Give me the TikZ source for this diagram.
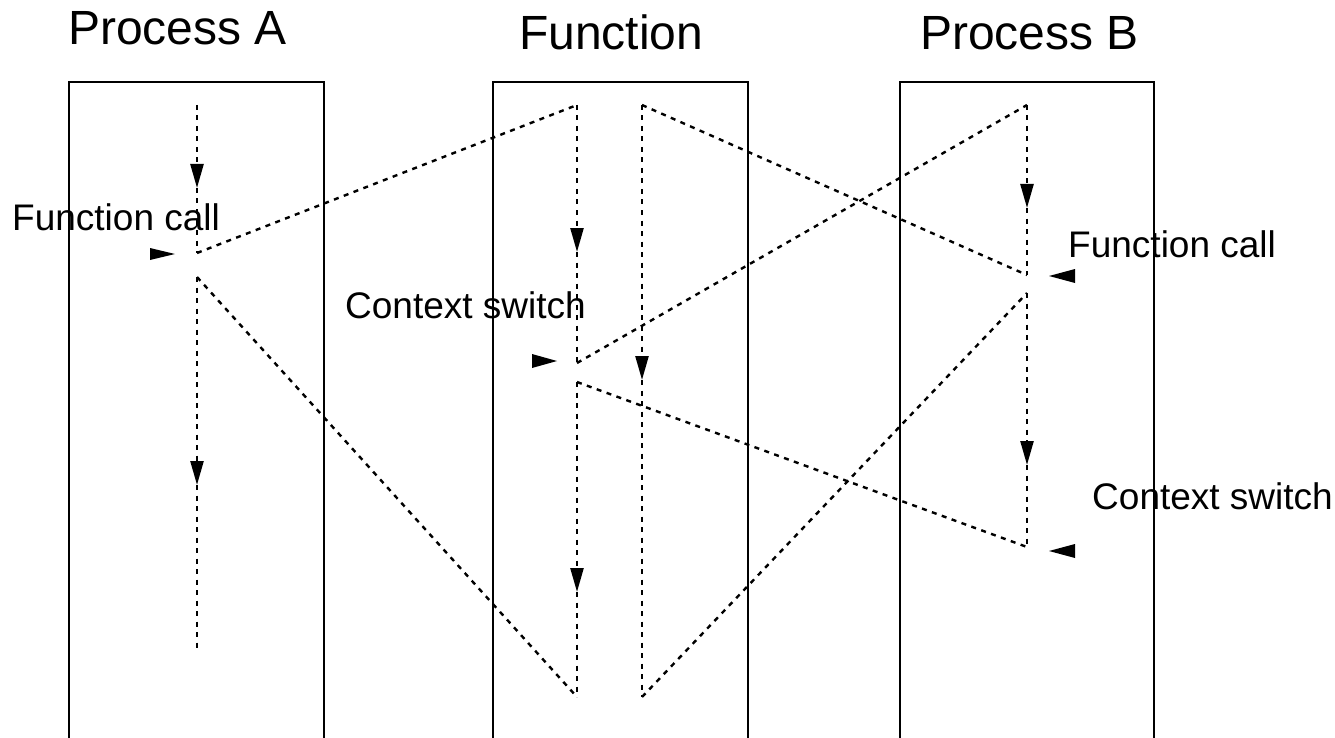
\documentclass[tikz,border=0pt]{standalone}
\usepackage{fontspec}
\setmainfont{Liberation Sans}
\usetikzlibrary{arrows.meta}
\tikzset{
  lane/.style={line width=2.8pt},
  flow/.style={line width=2.4pt, dash pattern=on 5pt off 5.5pt},
  flowarrow/.style={flow, -{Triangle[length=24pt,width=13pt]}},
  title/.style={font=\fontsize{48}{52}\selectfont, inner sep=0pt, anchor=base west},
  lbl/.style={font=\fontsize{37}{40}\selectfont, inner sep=0pt, anchor=base west},
  marker/.style={fill=black},
}
\begin{document}
\begin{tikzpicture}[x=1pt,y=-1pt]
\useasboundingbox (0,0) rectangle (1335,738);
\clip (0,0) rectangle (1335,738);
\fill[white] (0,0) rectangle (1335,738);

% titles
\node[title] (tA) at (68,45) {Process A};
\node[title] (tF) at (519,50) {Function};
\node[title] (tB) at (920,50) {Process B};

% lanes
\draw[lane] (69,760) -- (69,82) -- (324,82) -- (324,760);
\draw[lane] (493,760) -- (493,82) -- (748,82) -- (748,760);
\draw[lane] (900,760) -- (900,82) -- (1154,82) -- (1154,760);

% points
\coordinate (a1) at (197,105);
\coordinate (a2) at (197,253);
\coordinate (a3) at (197,277);
\coordinate (a4) at (197,652);
\coordinate (f1) at (577,105);
\coordinate (f2) at (577,363);
\coordinate (f3) at (577,382);
\coordinate (f4) at (577,697);
\coordinate (g1) at (642,105);
\coordinate (g2) at (642,697);
\coordinate (b1) at (1027,105);
\coordinate (b2) at (1027,275);
\coordinate (b3) at (1027,293);
\coordinate (b4) at (1027,547);
% arrow tips
\coordinate (ta1) at (197,188);
\coordinate (ta2) at (197,485);
\coordinate (tf1) at (577,252);
\coordinate (tf2) at (577,592);
\coordinate (tg)  at (642,380);
\coordinate (tb1) at (1027,208);
\coordinate (tb2) at (1027,465);

% vertical flows
\draw[flowarrow] (a1) -- (ta1); \draw[flow] (ta1) -- (a2);
\draw[flowarrow] (a3) -- (ta2); \draw[flow] (ta2) -- (a4);
\draw[flowarrow] (f1) -- (tf1); \draw[flow] (tf1) -- (f2);
\draw[flowarrow] (f3) -- (tf2); \draw[flow] (tf2) -- (f4);
\draw[flowarrow] (g1) -- (tg);  \draw[flow] (tg) -- (g2);
\draw[flowarrow] (b1) -- (tb1); \draw[flow] (tb1) -- (b2);
\draw[flowarrow] (b3) -- (tb2); \draw[flow] (tb2) -- (b4);

% diagonals
\draw[flow] (a2) -- (f1);
\draw[flow] (a3) -- (f4);
\draw[flow] (f2) -- (b1);
\draw[flow] (f3) -- (b4);
\draw[flow] (g1) -- (b2);
\draw[flow] (g2) -- (b3);

% labels
\node[lbl] (l1) at (12,230) {Function call};
\node[lbl] (l2) at (345,318) {Context switch};
\node[lbl] (l3) at (1068,257) {Function call};
\node[lbl] (l4) at (1092,509) {Context switch};

% label markers
\fill[marker] (150,248) -- (175,254) -- (150,260) -- cycle;
\fill[marker] (532,354) -- (557,361) -- (532,368) -- cycle;
\fill[marker] (1075,269) -- (1049,276) -- (1075,283) -- cycle;
\fill[marker] (1075,544) -- (1049,551) -- (1075,558) -- cycle;
\end{tikzpicture}
\end{document}
